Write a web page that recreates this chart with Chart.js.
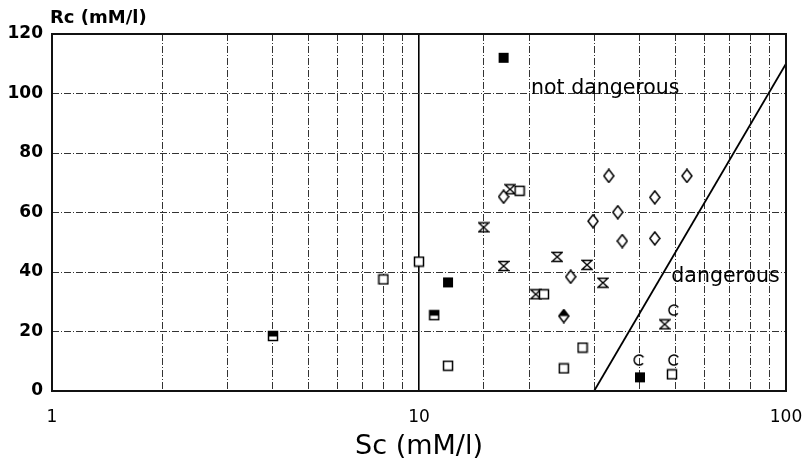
<!DOCTYPE html>
<html>
<head>
<meta charset="utf-8">
<script src="https://cdn.jsdelivr.net/npm/chart.js@4"></script>
<style>
  html, body { margin: 0; padding: 0; background: #fff; }
  canvas { display: block; }
</style>
</head>
<body>
<canvas id="chart" width="809" height="469"></canvas>
<script>
// values (x = Sc, y = Rc, both mM/l)
const openSquares = [
  { x: 8, y: 37.5 }, { x: 10, y: 43.5 }, { x: 12, y: 8.5 }, { x: 18.8, y: 67.3 },
  { x: 21.9, y: 32.5 }, { x: 27.9, y: 14.6 }, { x: 24.8, y: 7.6 }, { x: 48.9, y: 5.6 },
];
const filledSquares = [{ x: 17, y: 112 }, { x: 12, y: 36.5 }, { x: 40, y: 4.6 }];
const halfSquares = [{ x: 4, y: 18.5 }, { x: 11, y: 25.5 }];
const diamonds = [
  { x: 17, y: 65.3 }, { x: 32.9, y: 72.3 }, { x: 53.7, y: 72.3 }, { x: 43.9, y: 65.1 },
  { x: 34.8, y: 60.1 }, { x: 29.8, y: 57.1 }, { x: 35.8, y: 50.4 }, { x: 43.9, y: 51.3 },
  { x: 25.9, y: 38.4 },
];
const halfDiamonds = [{ x: 24.8, y: 25.2 }];
const hourglasses = [
  { x: 15, y: 55 }, { x: 17, y: 42 }, { x: 17.7, y: 67.8 }, { x: 20.8, y: 32.5 },
  { x: 23.8, y: 45.1 }, { x: 28.7, y: 42.4 }, { x: 31.7, y: 36.4 }, { x: 46.7, y: 22.4 },
];
const circles = [{ x: 39.8, y: 10.4 }, { x: 49.5, y: 10.4 }, { x: 49.5, y: 27.2 }];
const boundary = [{ x: 30, y: 0 }, { x: 100, y: 110 }];

const xTickLabels = [1, 10, 100];
const yTitle = "Rc (mM/l)";
const xTitle = "Sc (mM/l)";
const notes = [
  { text: "not dangerous", x: 20.2, y: 100 },
  { text: "dangerous", x: 48.7, y: 36.6 },
];

// small canvases used as point styles
const marker = (w, h, draw) => {
  const c = document.createElement("canvas");
  c.width = w;
  c.height = h;
  const g = c.getContext("2d");
  g.strokeStyle = "#000";
  g.fillStyle = "#000";
  g.lineWidth = 1.5;
  draw(g, w, h);
  return c;
};
const sqOpen = marker(12, 12, (g) => { g.fillStyle = "#fff"; g.fillRect(1, 1, 10, 10); g.strokeRect(1.5, 1.5, 9, 9); });
const sqFilled = marker(12, 12, (g) => { g.fillRect(1, 1, 10, 10); });
const sqHalf = marker(12, 12, (g) => {
  g.fillStyle = "#fff"; g.fillRect(1, 1, 10, 10);
  g.fillStyle = "#000"; g.fillRect(1, 1, 10, 5.5);
  g.strokeRect(1.5, 1.5, 9, 9);
});
const diamondPath = (g) => {
  g.beginPath(); g.moveTo(6, 1); g.lineTo(11, 7.5); g.lineTo(6, 14); g.lineTo(1, 7.5); g.closePath();
};
const dia = marker(12, 15, (g) => { g.fillStyle = "#fff"; diamondPath(g); g.fill(); g.stroke(); });
const diaHalf = marker(12, 15, (g) => {
  g.fillStyle = "#fff"; diamondPath(g); g.fill();
  g.fillStyle = "#000"; g.beginPath(); g.moveTo(6, 1); g.lineTo(11, 7.5); g.lineTo(1, 7.5); g.closePath(); g.fill();
  diamondPath(g); g.stroke();
});
const hour = marker(12, 12, (g) => {
  g.beginPath();
  g.moveTo(1, 1.5); g.lineTo(11, 1.5); g.lineTo(1, 10.5); g.lineTo(11, 10.5); g.closePath();
  g.stroke();
});
const circ = marker(14, 14, (g) => {
  g.lineWidth = 1.5;
  g.beginPath(); g.arc(7, 7, 5, 0.22 * Math.PI, 1.82 * Math.PI); g.stroke();
});

const scatterSet = (data, style) => ({
  type: "scatter",
  data,
  pointStyle: style,
  pointRadius: 6,
  borderColor: "#000",
  backgroundColor: "#000",
});

const annotate = {
  id: "annotate",
  afterDraw(chart) {
    const { ctx, chartArea: a, scales } = chart;
    ctx.save();
    ctx.strokeStyle = "#111";
    ctx.lineWidth = 2;
    ctx.strokeRect(a.left, a.top, a.right - a.left, a.bottom - a.top);
    ctx.fillStyle = "#000";
    ctx.textAlign = "left";
    ctx.textBaseline = "alphabetic";
    ctx.font = 'bold 18px "DejaVu Sans"';
    ctx.fillText(yTitle, a.left - 2, 23);
    ctx.font = '20.5px "DejaVu Sans"';
    notes.forEach((n) => {
      ctx.fillText(n.text, scales.x.getPixelForValue(n.x), scales.y.getPixelForValue(n.y));
    });
    ctx.restore();
  },
};

new Chart(document.getElementById("chart"), {
  data: {
    datasets: [
      {
        type: "line",
        data: boundary,
        borderColor: "#000",
        borderWidth: 1.8,
        pointRadius: 0,
        fill: false,
      },
      scatterSet(openSquares, sqOpen),
      scatterSet(filledSquares, sqFilled),
      scatterSet(halfSquares, sqHalf),
      scatterSet(diamonds, dia),
      scatterSet(halfDiamonds, diaHalf),
      scatterSet(hourglasses, hour),
      scatterSet(circles, circ),
    ],
  },
  options: {
    responsive: false,
    animation: false,
    events: [],
    layout: { padding: { top: 34, right: 23, left: 0, bottom: 0 } },
    plugins: { legend: { display: false }, tooltip: { enabled: false } },
    scales: {
      x: {
        type: "logarithmic",
        min: 1,
        max: 100,
        afterFit: (s) => { s.height = 78; s.paddingLeft = 0; s.paddingRight = 0; },
        grid: {
          drawTicks: false,
          color: (c) => (c.tick && c.tick.value === 10 ? "#000" : "#333"),
          lineWidth: (c) => (c.tick && c.tick.value === 10 ? 1.6 : 1),
        },
        border: { display: false, dash: (c) => (c.tick && c.tick.value === 10 ? [] : [7, 2, 1, 2]) },
        ticks: {
          autoSkip: false,
          maxRotation: 0,
          padding: 16,
          color: "#000",
          font: { family: "DejaVu Sans", size: 17 },
          callback: (v) => (xTickLabels.includes(v) ? String(v) : ""),
        },
        title: {
          display: true,
          text: xTitle,
          color: "#000",
          font: { family: "DejaVu Sans", size: 27 },
          padding: { top: 0, bottom: 6 },
        },
      },
      y: {
        min: 0,
        max: 120,
        afterFit: (s) => { s.width = 52; s.paddingTop = 0; s.paddingBottom = 0; },
        grid: { drawTicks: false, color: "#333", lineWidth: 1 },
        border: { display: false, dash: [7, 2, 1, 2] },
        ticks: {
          stepSize: 20,
          padding: 9,
          color: "#000",
          font: { family: "DejaVu Sans", size: 17, weight: "bold" },
        },
      },
    },
  },
  plugins: [annotate],
});
</script>
</body>
</html>
